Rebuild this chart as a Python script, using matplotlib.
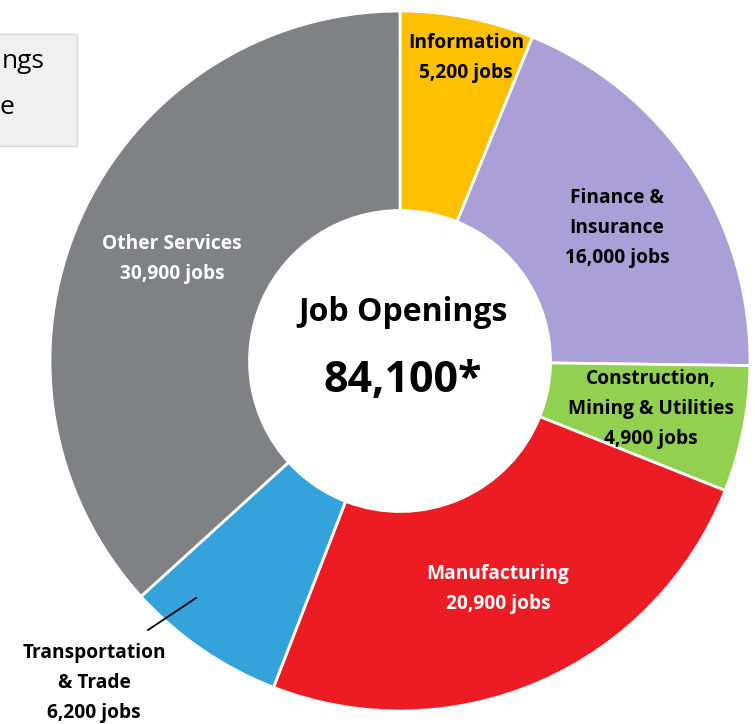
import matplotlib.pyplot as plt
import matplotlib.patches as mpatches

# job openings by sector (clockwise from 12 o'clock)
sectors = ["Information", "Finance & Insurance", "Construction, Mining & Utilities",
           "Manufacturing", "Transportation & Trade", "Other Services"]
jobs = [5200, 16000, 4900, 20900, 6200, 30900]
colors = ["#FFC000", "#AB9FD7", "#92D050", "#ED1C24", "#35A3DB", "#808184"]

labels = ["Information\n5,200 jobs", "Finance &\nInsurance\n16,000 jobs",
          "Construction,\nMining & Utilities\n4,900 jobs", "Manufacturing\n20,900 jobs",
          "Transportation\n& Trade\n6,200 jobs", "Other Services\n30,900 jobs"]
label_colors = ["black", "black", "black", "white", "black", "white"]
total_text = "84,100*"
# legend box is cropped in the source, only these pieces show
legend_bits = ["ngs", "e"]

plt.rcParams['font.family'] = ['Open Sans', 'DejaVu Sans']

W, H = 755, 724
fig = plt.figure(figsize=(W / 100, H / 100), dpi=100)
ax = fig.add_axes([0, 0, 1, 1])
cx, cy, R = 400, 361, 350


def px(x, y):
    # pixel -> data coords (radius 1 == outer ring)
    return (x - cx) / R, (cy - y) / R


ax.pie(jobs, colors=colors, startangle=90, counterclock=False, radius=1,
       wedgeprops=dict(width=0.57, edgecolor="white", linewidth=2))

ax.set_xlim(px(0, 0)[0], px(W, 0)[0])
ax.set_ylim(px(0, H)[1], px(0, 0)[1])
ax.set_aspect("equal")
ax.axis("off")

label_pos = [(466, 58), (617, 228), (651, 409), (498, 589), (94, 683), (172, 259)]
for lab, (x, y), c in zip(labels, label_pos, label_colors):
    ax.text(*px(x, y), lab, ha="center", va="center", color=c, fontsize=13.8,
            fontweight="bold", linespacing=1.68)

# leader line for transportation
x0, y0 = px(148, 630)
x1, y1 = px(196, 598)
ax.plot([x0, x1], [y0, y1], color="black", lw=1.3)

ax.text(*px(403, 313), "Job Openings", ha="center", va="center", fontsize=23,
        fontweight="bold")
ax.text(*px(403, 381), total_text, ha="center", va="center", fontsize=31,
        fontweight="bold")

# cropped legend box at top left
bx0, by0 = px(-10, 146)
bx1, by1 = px(77, 34)
ax.add_patch(mpatches.Rectangle((bx0, by0), bx1 - bx0, by1 - by0, facecolor="#F0F0F0",
                                edgecolor="#D9D9D9", lw=1, zorder=3))
ax.text(*px(45, 62), legend_bits[0], ha="right", va="center", fontsize=19, zorder=4)
ax.text(*px(14, 108), legend_bits[1], ha="right", va="center", fontsize=19, zorder=4)

fig.savefig("out.png", dpi=100)
